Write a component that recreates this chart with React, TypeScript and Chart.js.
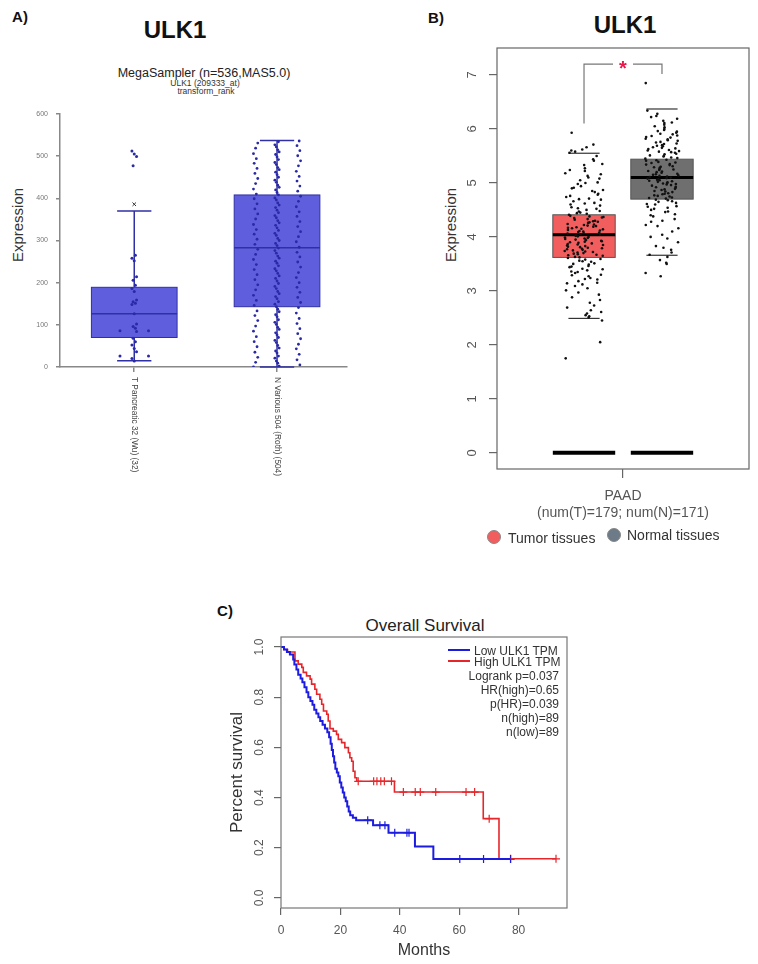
import React, { useEffect, useRef } from 'react';
import { Chart, registerables } from 'chart.js';

Chart.register(...registerables);
const FONT = '"Liberation Sans", Arial, Helvetica, sans-serif';
Chart.defaults.font.family = FONT;

/* ---------------- Panel A data (MegaSampler) ---------------- */
const aCategories = ['T Pancreatic 32 (Wu) (32)', 'N Various 504 (Roth) (504)'];
const aQ1 = [70, 143];
const aMedian = [126, 283];
const aQ3 = [189, 408];
const aWhiskerLow = [15, 0];
const aWhiskerHigh = [370, 537];
const aOutliers = [386];
const aTPancreaticDots = [512, 505, 499, 477, 265, 258, 252, 214, 206, 194, 186, 179, 159, 155, 151, 148, 126, 102, 96, 92, 86, 86, 84, 68, 60, 52, 44, 36, 26, 26, 20, 14];
const aNVariousDots = [0, 2, 5, 9, 11, 14, 17, 21, 23, 26, 30, 33, 35, 38, 43, 45, 48, 51, 54, 58, 60, 63, 67, 70, 72, 76, 79, 81, 85, 89, 91, 94, 97, 101, 103, 106, 110, 112, 115, 119, 122, 124, 128, 131, 133, 137, 141, 143, 146, 149, 153, 155, 158, 162, 165, 167, 170, 174, 177, 179, 183, 186, 189, 191, 195, 198, 200, 204, 207, 210, 212, 216, 219, 222, 224, 228, 231, 233, 237, 240, 243, 246, 249, 251, 255, 258, 261, 263, 267, 270, 272, 276, 279, 282, 284, 288, 291, 293, 297, 300, 303, 305, 309, 312, 315, 317, 321, 324, 326, 330, 333, 336, 338, 342, 345, 347, 351, 354, 357, 359, 363, 366, 368, 372, 375, 378, 380, 384, 387, 389, 393, 396, 399, 401, 405, 408, 410, 414, 417, 420, 422, 426, 429, 431, 435, 438, 441, 443, 447, 450, 452, 456, 459, 462, 464, 468, 471, 473, 477, 480, 483, 485, 489, 492, 494, 498, 501, 504, 506, 510, 513, 515, 519, 522, 525, 527, 531, 534, 536];

/* ---------------- Panel B data (GEPIA PAAD) ---------------- */
const bCategoryLabel = ['PAAD', '(num(T)=179; num(N)=171)'];
const bGroups = ['Tumor tissues', 'Normal tissues'];
const bQ1 = [3.62, 4.7];
const bMedian = [4.04, 5.1];
const bQ3 = [4.41, 5.44];
const bWhiskerLow = [2.49, 3.66];
const bWhiskerHigh = [5.55, 6.37];
const bYTicks = [0, 1, 2, 3, 4, 5, 6, 7];
const bTumorDots = [5.93, 5.71, 5.66, 5.62, 5.58, 5.5, 5.41, 5.33, 5.27, 5.22, 5.18, 5.13, 5.1, 5.05, 5.01, 4.98, 4.94, 4.91, 4.87, 4.85, 4.8, 4.78, 4.74, 4.71, 4.69, 4.66, 4.63, 4.6, 4.58, 4.55, 4.53, 4.5, 4.47, 4.45, 4.43, 4.41, 4.38, 4.36, 4.35, 4.32, 4.3, 4.28, 4.27, 4.24, 4.22, 4.2, 4.19, 4.17, 4.15, 4.14, 4.12, 4.1, 4.09, 4.07, 4.06, 4.04, 4.03, 4.01, 4.0, 3.98, 3.97, 3.95, 3.93, 3.92, 3.9, 3.88, 3.87, 3.85, 3.83, 3.81, 3.8, 3.78, 3.76, 3.74, 3.72, 3.71, 3.69, 3.67, 3.65, 3.63, 3.61, 3.58, 3.56, 3.54, 3.51, 3.49, 3.46, 3.44, 3.41, 3.38, 3.36, 3.33, 3.3, 3.27, 3.24, 3.21, 3.18, 3.15, 3.12, 3.09, 3.05, 3.01, 2.97, 2.93, 2.88, 2.83, 2.78, 2.73, 2.69, 2.64, 2.61, 2.58, 2.55, 2.53, 2.51, 2.45, 2.05, 1.75,
  4.52, 4.48, 4.44, 4.39, 4.37, 4.33, 4.29, 4.26, 4.23, 4.21, 4.18, 4.16, 4.13, 4.11, 4.08, 4.05, 4.02, 3.99, 3.96, 3.94, 3.91, 3.89, 3.86, 3.84, 3.82, 3.79, 3.77, 3.75, 3.73, 3.7, 3.68, 3.66, 3.62, 3.59, 3.55, 3.5, 3.45, 3.4, 3.35, 3.29, 3.22, 3.14, 4.62, 4.7, 4.76, 4.83, 4.9, 5.0, 5.08, 5.16, 5.24, 5.35, 5.44, 5.56, 5.6];
const bNormalDots = [6.85, 6.34, 6.28, 6.24, 6.19, 6.15, 6.11, 6.08, 6.03, 6.0, 5.96, 5.93, 5.9, 5.87, 5.84, 5.81, 5.78, 5.76, 5.73, 5.7, 5.68, 5.65, 5.63, 5.6, 5.58, 5.56, 5.53, 5.51, 5.49, 5.47, 5.45, 5.43, 5.41, 5.39, 5.37, 5.35, 5.33, 5.31, 5.3, 5.28, 5.26, 5.24, 5.22, 5.21, 5.19, 5.17, 5.15, 5.14, 5.12, 5.1, 5.09, 5.07, 5.05, 5.04, 5.02, 5.0, 4.98, 4.97, 4.95, 4.93, 4.91, 4.89, 4.87, 4.85, 4.83, 4.81, 4.79, 4.77, 4.75, 4.73, 4.71, 4.68, 4.66, 4.63, 4.6, 4.57, 4.54, 4.5, 4.46, 4.42, 4.38, 4.33, 4.28, 4.22, 4.16, 4.1, 4.04, 3.97, 3.9, 3.83, 3.76, 3.71, 3.67, 3.63, 3.57, 3.52, 3.33, 3.27,
  5.95, 5.88, 5.82, 5.75, 5.69, 5.64, 5.59, 5.54, 5.5, 5.46, 5.42, 5.38, 5.34, 5.29, 5.25, 5.2, 5.16, 5.13, 5.11, 5.08, 5.06, 5.03, 5.01, 4.99, 4.96, 4.92, 4.88, 4.84, 4.8, 4.76, 4.72, 4.69, 4.65, 4.61, 4.56, 4.52, 4.47, 4.4, 4.3, 4.2, 6.22, 6.12, 6.05, 5.98, 5.91, 5.85, 5.79, 5.72, 5.66, 5.61, 5.57, 4.0, 3.8, 3.5];
const bBracketLeftBottom = 6.1;
const bBracketTop = 7.2;
const bBracketRightBottom = 7.02;

/* ---------------- Panel C data (Overall Survival) ---------------- */
const cLowTimes = [0, 1.0, 2.0, 3.0, 4.1, 4.5, 5.2, 5.8, 6.6, 7.2, 7.9, 8.6, 9.2, 9.9, 10.6, 11.2, 11.9, 12.6, 13.2, 14.0, 14.8, 15.6, 16.2, 16.7, 17.1, 17.5, 17.9, 18.3, 18.8, 19.3, 19.8, 20.3, 20.8, 21.3, 21.8, 22.3, 22.8, 23.3, 24.2, 25.3, 31.0, 36.2, 45.1, 51.3];
const cLowSurv = [1.0, 0.99, 0.98, 0.97, 0.95, 0.93, 0.91, 0.89, 0.875, 0.86, 0.84, 0.82, 0.8, 0.785, 0.77, 0.75, 0.735, 0.72, 0.705, 0.69, 0.675, 0.66, 0.64, 0.615, 0.59, 0.565, 0.54, 0.515, 0.5, 0.485, 0.46, 0.44, 0.42, 0.4, 0.385, 0.365, 0.345, 0.33, 0.32, 0.31, 0.29, 0.26, 0.205, 0.155];
const cHighTimes = [0, 1.0, 2.2, 4.7, 5.8, 7.0, 7.5, 8.6, 9.8, 10.3, 11.4, 12.0, 13.1, 13.7, 14.3, 15.4, 15.9, 16.5, 17.6, 18.7, 19.3, 20.4, 21.5, 22.7, 23.2, 23.8, 24.3, 24.9, 25.5, 38.2, 68.1, 73.4];
const cHighSurv = [1.0, 0.99, 0.98, 0.945, 0.932, 0.919, 0.899, 0.885, 0.872, 0.852, 0.832, 0.812, 0.792, 0.772, 0.745, 0.732, 0.705, 0.675, 0.665, 0.652, 0.632, 0.619, 0.599, 0.579, 0.559, 0.545, 0.505, 0.479, 0.465, 0.422, 0.316, 0.156];
const cLowCensor = [29.2, 33.3, 35.0, 38.3, 42.4, 43.1, 60.2, 68.2, 77.3];
const cHighCensor = [26.0, 31.2, 32.3, 33.6, 34.8, 37.2, 41.2, 45.2, 46.9, 52.1, 62.3, 65.2, 70.1, 77.3, 92.6];
const cXTicks = [0, 20, 40, 60, 80];
const cYTicks = [0, 0.2, 0.4, 0.6, 0.8, 1.0];
const cLegend = ['Low ULK1 TPM', 'High ULK1 TPM'];
const cStats = ['Logrank p=0.037', 'HR(high)=0.65', 'p(HR)=0.039', 'n(high)=89', 'n(low)=89'];

/* ---------------- helpers ---------------- */
const A_BLUE_FILL = 'rgba(78,78,218,0.9)';
const A_BLUE_LINE = '#2f2fa6';
const A_DOT = '#2a2aa6';
const B_TUMOR = '#f25e5e';
const B_NORMAL = '#6f6f6f';
const C_BLUE = '#1c1ce0';
const C_RED = '#e6262b';

function survAt(times: number[], surv: number[], t: number) {
  let s = surv[0];
  for (let i = 0; i < times.length; i++) if (times[i] <= t) s = surv[i];
  return s;
}

// deterministic horizontal jitter (position only, not data)
function hash01(i: number, seed: number) {
  const s = Math.sin(i * 12.9898 + seed * 78.233) * 43758.5453;
  return s - Math.floor(s);
}

function tJitter(vals: number[], i: number) {
  const v = vals[i];
  const total = vals.filter((u) => u === v).length;
  if (total > 1) {
    const before = vals.slice(0, i).filter((u) => u === v).length;
    return before === 0 ? -0.1 : 0.1;
  }
  return (((i * 7) % 5) - 2) * 0.008;
}

function line(ctx: CanvasRenderingContext2D, x1: number, y1: number, x2: number, y2: number) {
  ctx.beginPath();
  ctx.moveTo(x1, y1);
  ctx.lineTo(x2, y2);
  ctx.stroke();
}

/* ---------------- Chart A ---------------- */
const aBoxPlugin = {
  id: 'aBoxes',
  beforeDatasetsDraw(chart: any) {
    const { ctx } = chart;
    const x = chart.scales.x;
    const y = chart.scales.y;
    ctx.save();
    aCategories.forEach((_, i) => {
      const c = i + 1;
      const cx = x.getPixelForValue(c);
      const l = x.getPixelForValue(c - 0.3);
      const r = x.getPixelForValue(c + 0.3);
      const t = y.getPixelForValue(aQ3[i]);
      const b = y.getPixelForValue(aQ1[i]);
      ctx.strokeStyle = A_BLUE_LINE;
      ctx.lineWidth = 1.5;
      line(ctx, cx, t, cx, y.getPixelForValue(aWhiskerHigh[i]));
      line(ctx, cx, b, cx, y.getPixelForValue(aWhiskerLow[i]));
      const cl = x.getPixelForValue(c - 0.12);
      const cr = x.getPixelForValue(c + 0.12);
      line(ctx, cl, y.getPixelForValue(aWhiskerHigh[i]), cr, y.getPixelForValue(aWhiskerHigh[i]));
      line(ctx, cl, y.getPixelForValue(aWhiskerLow[i]), cr, y.getPixelForValue(aWhiskerLow[i]));
      ctx.fillStyle = A_BLUE_FILL;
      ctx.fillRect(l, t, r - l, b - t);
      ctx.lineWidth = 1;
      ctx.strokeRect(l, t, r - l, b - t);
      ctx.lineWidth = 1.5;
      const m = y.getPixelForValue(aMedian[i]);
      line(ctx, l, m, r, m);
    });
    ctx.restore();
  },
  afterDraw(chart: any) {
    const { ctx, chartArea } = chart;
    const x = chart.scales.x;
    ctx.save();
    ctx.font = `8.3px ${FONT}`;
    ctx.fillStyle = '#444';
    ctx.textAlign = 'left';
    ctx.textBaseline = 'middle';
    aCategories.forEach((label, i) => {
      ctx.save();
      ctx.translate(x.getPixelForValue(i + 1), chartArea.bottom + 10);
      ctx.rotate(Math.PI / 2);
      ctx.fillText(label, 0, 0);
      ctx.restore();
    });
    ctx.restore();
  },
};

function buildA(): any {
  const colOff = [-0.15, 0, 0.15, 0];
  const tPts = aTPancreaticDots.map((v, i) => ({ x: 1 + tJitter(aTPancreaticDots, i), y: v }));
  const nPts = aNVariousDots.map((v, i) => ({ x: 2 + colOff[i % 4] + (((i * 13) % 7) - 3) * 0.005, y: v }));
  const oPts = aOutliers.map((v) => ({ x: 1, y: v }));
  return {
    type: 'scatter',
    data: {
      datasets: [
        { data: tPts, pointRadius: 1.5, pointBackgroundColor: A_DOT, pointBorderWidth: 0 },
        { data: nPts, pointRadius: 1.4, pointBackgroundColor: A_DOT, pointBorderWidth: 0 },
        { data: oPts, pointStyle: 'crossRot', pointRadius: 2.5, pointBorderColor: '#333', pointBorderWidth: 1, pointBackgroundColor: 'transparent' },
      ],
    },
    options: {
      responsive: false,
      animation: false,
      layout: { padding: { left: 0, top: 14, right: 13, bottom: 0 } },
      plugins: { legend: { display: false }, tooltip: { enabled: false } },
      scales: {
        x: {
          type: 'linear', min: 0.48, max: 2.49,
          afterBuildTicks: (s: any) => { s.ticks = aCategories.map((_, i) => ({ value: i + 1 })); },
          ticks: { display: false },
          grid: { drawOnChartArea: false, drawTicks: true, tickLength: 5, color: '#888', lineWidth: 1.5 },
          border: { color: '#888', width: 1.5 },
          afterFit: (s: any) => { s.height = 133; },
        },
        y: {
          min: 0, max: 600,
          ticks: { stepSize: 100, font: { size: 7, family: FONT }, color: '#777', padding: 8 },
          grid: { drawOnChartArea: false, tickLength: 4, color: '#888', lineWidth: 1.5 },
          border: { color: '#888', width: 1.5 },
          afterFit: (s: any) => { s.width = 60; },
        },
      },
    },
    plugins: [aBoxPlugin],
  };
}

/* ---------------- Chart B ---------------- */
const bCenter = (i: number) => 0.75 + i * 0.5;

const bPlugin = {
  id: 'bBoxes',
  beforeDatasetsDraw(chart: any) {
    const { ctx } = chart;
    const x = chart.scales.x;
    const y = chart.scales.y;
    ctx.save();
    bGroups.forEach((_, i) => {
      const c = bCenter(i);
      const l = x.getPixelForValue(c - 0.2);
      const r = x.getPixelForValue(c + 0.2);
      const z = y.getPixelForValue(0);
      ctx.strokeStyle = '#000';
      ctx.lineWidth = 4;
      line(ctx, l, z, r, z);
      const t = y.getPixelForValue(bQ3[i]);
      const b = y.getPixelForValue(bQ1[i]);
      ctx.fillStyle = i === 0 ? B_TUMOR : B_NORMAL;
      ctx.fillRect(l, t, r - l, b - t);
      ctx.strokeStyle = '#555';
      ctx.lineWidth = 1;
      ctx.strokeRect(l, t, r - l, b - t);
      ctx.strokeStyle = '#000';
      ctx.lineWidth = 3;
      const m = y.getPixelForValue(bMedian[i]);
      line(ctx, l, m, r, m);
      ctx.strokeStyle = '#333';
      ctx.lineWidth = 1.2;
      const cl = x.getPixelForValue(c - 0.1);
      const cr = x.getPixelForValue(c + 0.1);
      const hi = y.getPixelForValue(bWhiskerHigh[i]);
      const lo = y.getPixelForValue(bWhiskerLow[i]);
      line(ctx, cl, hi, cr, hi);
      line(ctx, cl, lo, cr, lo);
    });
    ctx.restore();
  },
  afterDraw(chart: any) {
    const { ctx, chartArea } = chart;
    const x = chart.scales.x;
    const y = chart.scales.y;
    ctx.save();
    ctx.strokeStyle = '#666';
    ctx.lineWidth = 1.2;
    ctx.strokeRect(chartArea.left, chartArea.top, chartArea.right - chartArea.left, chartArea.bottom - chartArea.top);
    ctx.font = `13px ${FONT}`;
    ctx.fillStyle = '#555';
    ctx.textAlign = 'center';
    ctx.textBaseline = 'middle';
    bYTicks.forEach((v) => {
      ctx.save();
      ctx.translate(chartArea.left - 25, y.getPixelForValue(v));
      ctx.rotate(-Math.PI / 2);
      ctx.fillText(String(v), 0, 0);
      ctx.restore();
    });
    const xl = x.getPixelForValue(bCenter(0));
    const xr = x.getPixelForValue(bCenter(1));
    const xm = x.getPixelForValue(1);
    const yt = y.getPixelForValue(bBracketTop);
    ctx.strokeStyle = '#777';
    ctx.lineWidth = 1.2;
    ctx.beginPath();
    ctx.moveTo(xl, y.getPixelForValue(bBracketLeftBottom));
    ctx.lineTo(xl, yt);
    ctx.lineTo(xm - 10, yt);
    ctx.moveTo(xm + 10, yt);
    ctx.lineTo(xr, yt);
    ctx.lineTo(xr, y.getPixelForValue(bBracketRightBottom));
    ctx.stroke();
    ctx.fillStyle = '#e8184a';
    ctx.font = `bold 20px ${FONT}`;
    ctx.textBaseline = 'alphabetic';
    ctx.fillText('*', xm, yt + 11);
    ctx.restore();
  },
};

function buildB(): any {
  const tPts = bTumorDots.map((v, i) => ({ x: bCenter(0) + (hash01(i, 1) - 0.5) * 0.25, y: v }));
  const nPts = bNormalDots.map((v, i) => ({ x: bCenter(1) + (hash01(i, 2) - 0.5) * 0.22, y: v }));
  return {
    type: 'scatter',
    data: {
      datasets: [
        { data: tPts, pointRadius: 1.3, pointBackgroundColor: '#111', pointBorderWidth: 0 },
        { data: nPts, pointRadius: 1.3, pointBackgroundColor: '#111', pointBorderWidth: 0 },
      ],
    },
    options: {
      responsive: false,
      animation: false,
      layout: { padding: { left: 56, top: 48, right: 9, bottom: 0 } },
      plugins: { legend: { display: false }, tooltip: { enabled: false } },
      scales: {
        x: {
          type: 'linear', min: 0.192, max: 1.808,
          afterBuildTicks: (s: any) => { s.ticks = [{ value: 1 }]; },
          ticks: { callback: () => bCategoryLabel, font: { size: 14, family: FONT, lineHeight: 1.2 }, color: '#555', padding: 10, maxRotation: 0, minRotation: 0 },
          grid: { drawOnChartArea: false, tickLength: 9, color: '#666', lineWidth: 1.2 },
          border: { display: false },
          afterFit: (s: any) => { s.height = 91; },
        },
        y: {
          min: -0.3, max: 7.5,
          afterBuildTicks: (s: any) => { s.ticks = bYTicks.map((v) => ({ value: v })); },
          ticks: { display: false },
          grid: { drawOnChartArea: false, tickLength: 8, color: '#666', lineWidth: 1.2 },
          border: { display: false },
          afterFit: (s: any) => { s.width = 61; },
        },
      },
    },
    plugins: [bPlugin],
  };
}

/* ---------------- Chart C ---------------- */
const cPlugin = {
  id: 'cFrame',
  afterDraw(chart: any) {
    const { ctx, chartArea } = chart;
    const y = chart.scales.y;
    ctx.save();
    ctx.strokeStyle = '#777';
    ctx.lineWidth = 1.2;
    ctx.strokeRect(chartArea.left, chartArea.top, chartArea.right - chartArea.left, chartArea.bottom - chartArea.top);
    ctx.font = `12px ${FONT}`;
    ctx.fillStyle = '#555';
    ctx.textAlign = 'center';
    ctx.textBaseline = 'middle';
    cYTicks.forEach((v) => {
      ctx.save();
      ctx.translate(chartArea.left - 21, y.getPixelForValue(v));
      ctx.rotate(-Math.PI / 2);
      ctx.fillText(v.toFixed(1), 0, 0);
      ctx.restore();
    });
    ctx.restore();
  },
};

function kmPoints(times: number[], surv: number[], censor: number[]) {
  const pts = times.map((t, i) => ({ x: t, y: surv[i] }));
  const end = Math.max(...censor);
  if (end > times[times.length - 1]) pts.push({ x: end, y: surv[surv.length - 1] });
  return pts;
}

function buildC(): any {
  return {
    type: 'scatter',
    data: {
      datasets: [
        { label: cLegend[0], data: kmPoints(cLowTimes, cLowSurv, cLowCensor), showLine: true, stepped: 'before', borderColor: C_BLUE, borderWidth: 2, pointRadius: 0, fill: false },
        { label: cLegend[1], data: kmPoints(cHighTimes, cHighSurv, cHighCensor), showLine: true, stepped: 'before', borderColor: C_RED, borderWidth: 1.6, pointRadius: 0, fill: false },
        { data: cLowCensor.map((t) => ({ x: t, y: survAt(cLowTimes, cLowSurv, t) })), pointStyle: 'cross', pointRadius: 4, pointBorderColor: C_BLUE, pointBorderWidth: 1.2 },
        { data: cHighCensor.map((t) => ({ x: t, y: survAt(cHighTimes, cHighSurv, t) })), pointStyle: 'cross', pointRadius: 4, pointBorderColor: C_RED, pointBorderWidth: 1.2 },
      ],
    },
    options: {
      responsive: false,
      animation: false,
      layout: { padding: { left: 23, top: 37, right: 13, bottom: 0 } },
      plugins: { legend: { display: false }, tooltip: { enabled: false } },
      scales: {
        x: {
          type: 'linear', min: 0, max: 96.3,
          afterBuildTicks: (s: any) => { s.ticks = cXTicks.map((v) => ({ value: v })); },
          ticks: { font: { size: 12, family: FONT }, color: '#555', padding: 8, maxRotation: 0, minRotation: 0 },
          grid: { drawOnChartArea: false, tickLength: 7, color: '#666', lineWidth: 1.2 },
          border: { display: false },
          title: { display: true, text: 'Months', font: { size: 16, family: FONT }, color: '#333', padding: { top: 0, bottom: 4 } },
          afterFit: (s: any) => { s.height = 56; },
        },
        y: {
          min: -0.04, max: 1.04,
          afterBuildTicks: (s: any) => { s.ticks = cYTicks.map((v) => ({ value: v })); },
          ticks: { display: false },
          grid: { drawOnChartArea: false, tickLength: 7, color: '#666', lineWidth: 1.2 },
          border: { display: false },
          title: { display: true, text: 'Percent survival', font: { size: 17, family: FONT }, color: '#333', padding: { top: 4, bottom: 0 } },
          afterFit: (s: any) => { s.width = 58; },
        },
      },
    },
    plugins: [cPlugin],
  };
}

/* ---------------- components ---------------- */
function ChartCanvas({ left, top, width, height, build }: any) {
  const ref = useRef<HTMLCanvasElement>(null);
  useEffect(() => {
    const chart = new Chart(ref.current as HTMLCanvasElement, build());
    return () => chart.destroy();
  }, []);
  return <canvas ref={ref} width={width} height={height} style={{ position: 'absolute', left, top, width, height }} />;
}

function Txt({ x, y, children, size = 12, bold = false, anchor = 'center', rotate = 0, color = '#222' }: any) {
  const tx = anchor === 'center' ? '-50%' : anchor === 'left' ? '0%' : '-100%';
  return (
    <div
      style={{
        position: 'absolute', left: x, top: y,
        transform: `translate(${tx}, -50%)${rotate ? ` rotate(${rotate}deg)` : ''}`,
        fontFamily: FONT, fontSize: size, fontWeight: bold ? 700 : 400, color,
        whiteSpace: 'nowrap', lineHeight: 1,
      }}
    >
      {children}
    </div>
  );
}

function Dot({ x, y, color }: any) {
  return <div style={{ position: 'absolute', left: x - 7, top: y - 7, width: 14, height: 14, borderRadius: '50%', background: color, border: '1px solid #888', boxSizing: 'border-box' }} />;
}

export default function App() {
  return (
    <div style={{ position: 'absolute', left: 0, top: 0, width: 758, height: 964, background: '#fff', overflow: 'hidden' }}>
      {/* Panel A */}
      <Txt x={20} y={16} size={15} bold color="#111">A)</Txt>
      <Txt x={175} y={30} size={24} bold color="#111">ULK1</Txt>
      <Txt x={204} y={73} size={12.5} color="#222">MegaSampler (n=536,MAS5.0)</Txt>
      <Txt x={205} y={83} size={8.5} color="#333">ULK1 (209333_at)</Txt>
      <Txt x={206} y={91} size={8.5} color="#333">transform_rank</Txt>
      <Txt x={17} y={225} size={15} rotate={-90} color="#333">Expression</Txt>
      <ChartCanvas left={0} top={100} width={360} height={400} build={buildA} />

      {/* Panel B */}
      <Txt x={436} y={17} size={15} bold color="#111">B)</Txt>
      <Txt x={625} y={25} size={24} bold color="#111">ULK1</Txt>
      <Txt x={450} y={225} size={15} rotate={-90} color="#333">Expression</Txt>
      <ChartCanvas left={380} top={0} width={378} height={560} build={buildB} />
      <Dot x={494} y={537} color={B_TUMOR} />
      <Txt x={508} y={538} size={14} anchor="left" color="#333">{bGroups[0]}</Txt>
      <Dot x={614} y={535} color="#6d7a87" />
      <Txt x={627} y={535} size={14} anchor="left" color="#333">{bGroups[1]}</Txt>

      {/* Panel C */}
      <Txt x={225} y={610} size={15} bold color="#111">C)</Txt>
      <Txt x={425} y={625} size={17} color="#222">Overall Survival</Txt>
      <ChartCanvas left={200} top={600} width={380} height={364} build={buildC} />
      <div style={{ position: 'absolute', left: 448, top: 649, width: 22, height: 2, background: C_BLUE }} />
      <Txt x={474} y={651} size={12} anchor="left" color="#333">{cLegend[0]}</Txt>
      <div style={{ position: 'absolute', left: 448, top: 660, width: 22, height: 2, background: C_RED }} />
      <Txt x={474} y={662} size={12} anchor="left" color="#333">{cLegend[1]}</Txt>
      {cStats.map((s, i) => (
        <Txt key={s} x={559} y={676 + i * 14} size={12} anchor="right" color="#333">{s}</Txt>
      ))}
    </div>
  );
}
